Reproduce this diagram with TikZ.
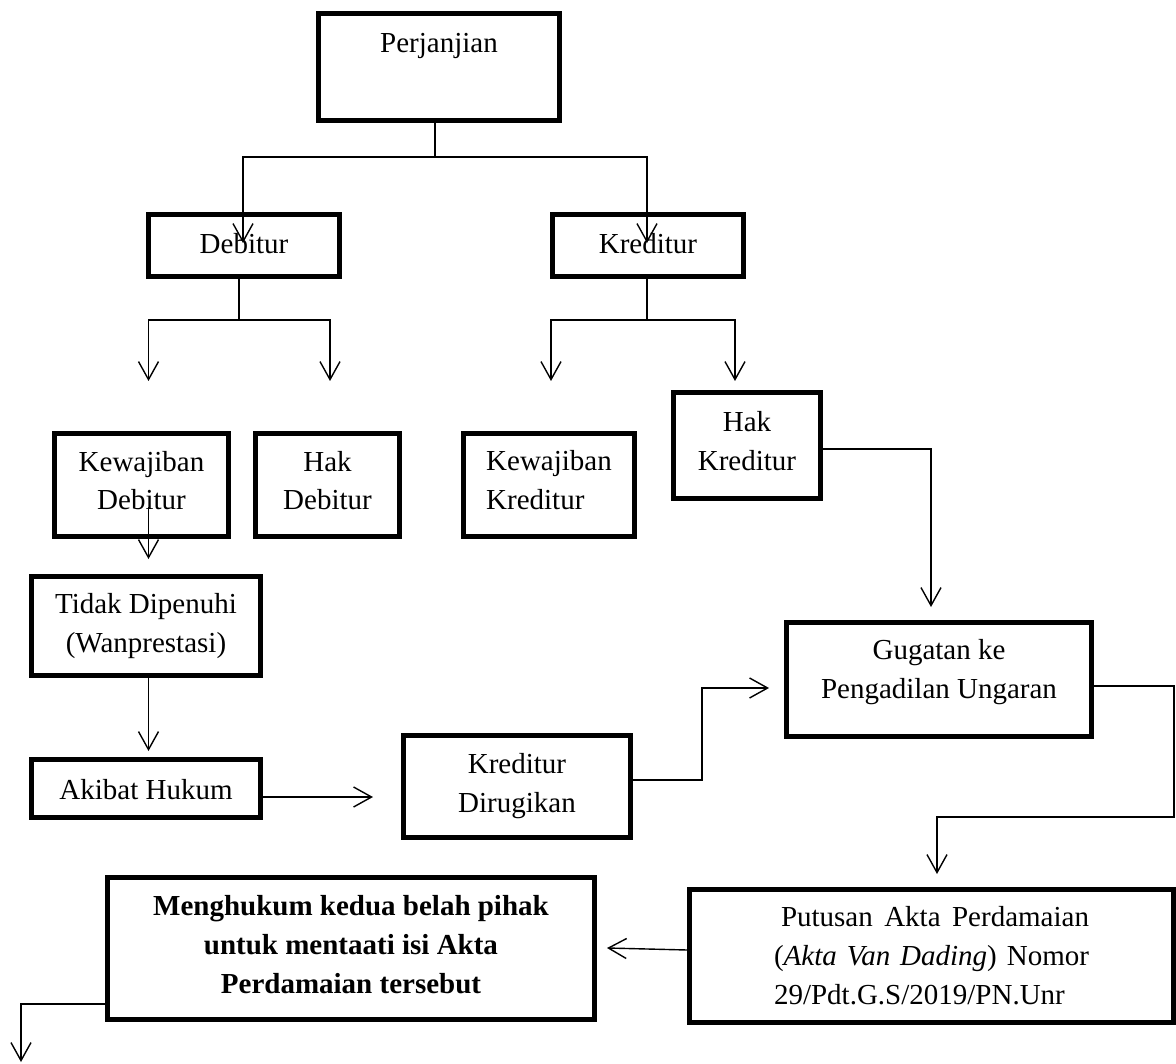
\documentclass[tikz,border=0pt]{standalone}
\usepackage{fontspec}
\setmainfont{Liberation Serif}
\usetikzlibrary{arrows.meta}
\begin{document}
\begin{tikzpicture}[x=1pt,y=-1pt,
  box/.style={draw, line width=5pt, inner sep=0pt, align=center,
    font=\fontsize{29}{39}\selectfont, text height=20pt},
  two/.style={text height=59pt, text depth=#1},
  three/.style={text height=98pt, text depth=#1},
  conn/.style={line width=1.4pt},
  arr/.style={conn, -{Straight Barb[length=18pt,width=20pt]}},
]
\useasboundingbox (0,0) rectangle (1176,1064);

% boxes
\node[box, minimum width=241pt, minimum height=107pt, text depth=48pt] (perj) at (439,67) {Perjanjian};
\node[box, minimum width=191pt, minimum height=62pt, text depth=3pt] (deb) at (244,245.5) {Debitur};
\node[box, minimum width=191pt, minimum height=62pt, text depth=3pt] (kred) at (648,245.5) {Kreditur};
\node[box, two=9pt, minimum width=174pt, minimum height=103pt] (kewdeb) at (141.5,485) {Kewajiban\\Debitur};
\node[box, two=9pt, minimum width=144pt, minimum height=103pt] (hakdeb) at (327.5,485) {Hak\\Debitur};
\node[box, two=11pt, align=left, minimum width=171pt, minimum height=103pt] (kewkred) at (549,485) {Kewajiban\\Kreditur};
\node[box, two=8pt, minimum width=147pt, minimum height=106pt] (hakkred) at (747,445.5) {Hak\\Kreditur};
\node[box, two=7pt, minimum width=229pt, minimum height=99pt] (tidak) at (146,626) {Tidak Dipenuhi\\(Wanprestasi)};
\node[box, minimum width=229pt, minimum height=58pt, text height=21pt, text depth=0pt] (akibat) at (146,788.5) {Akibat Hukum};
\node[box, two=8pt, minimum width=227pt, minimum height=102pt] (kdr) at (517,786.5) {Kreditur\\Dirugikan};
\node[box, two=22pt, minimum width=305pt, minimum height=114pt] (gug) at (939,679.5) {Gugatan ke\\Pengadilan Ungaran};
\node[box, three=2pt, align=left, minimum width=484pt, minimum height=133pt] (put) at (931.5,956)
  {\hspace*{7pt}\makebox[308pt][s]{Putusan Akta Perdamaian}\\\makebox[315pt][s]{(\textit{Akta Van Dading}) Nomor}\\29/Pdt.G.S/2019/PN.Unr};
\node[box, three=9pt, font=\fontsize{29}{39}\selectfont\bfseries, minimum width=487pt, minimum height=142pt] (meng) at (351,948.5)
  {Menghukum kedua belah pihak\\untuk mentaati isi Akta\\Perdamaian tersebut};

% coordinates
\coordinate (p1) at (435,157);
\coordinate (tDeb) at (243,243);
\coordinate (tKred) at (647,243);
\coordinate (d1) at (239,320);
\coordinate (tKewDeb) at (148.5,381);
\coordinate (tHakDeb) at (330,381);
\coordinate (k1) at (647,320);
\coordinate (tKewKred) at (551,381);
\coordinate (tHakKred) at (735,381);
\coordinate (a1) at (148.5,507);
\coordinate (a1t) at (148.5,559);
\coordinate (a2t) at (148.5,751);
\coordinate (a3t) at (373,797);
\coordinate (a4s) at (633,780);
\coordinate (a4t) at (769,688);
\coordinate (a5s) at (823,449);
\coordinate (a5t) at (931,607);
\coordinate (a6s) at (1094,686);
\coordinate (a6t) at (937,874);
\coordinate (a7s) at (687,950);
\coordinate (a7t) at (607,948);
\coordinate (a8s) at (105,1004);
\coordinate (a8t) at (21,1062);

% connectors
\draw[conn] (p1 |- perj.south) -- (p1);
\draw[arr] (p1) -| (tDeb);
\draw[arr] (p1) -| (tKred);

\draw[conn] (d1 |- deb.south) -- (d1);
\draw[arr] (d1) -| (tKewDeb);
\draw[arr] (d1) -| (tHakDeb);

\draw[conn] (k1 |- kred.south) -- (k1);
\draw[arr] (k1) -| (tKewKred);
\draw[arr] (k1) -| (tHakKred);

\draw[arr] (a1) -- (a1t);
\draw[arr] (a2t |- tidak.south) -- (a2t);
\draw[arr] (akibat.east |- a3t) -- (a3t);
\draw[arr] (kdr.east |- a4s) -- (702,780) -- (702,688) -- (a4t);
\draw[arr] (hakkred.east |- a5s) -| (a5t);
\draw[arr] (gug.east |- a6s) -- (1174,686) -- (1174,817) -- (937,817) -- (a6t);
\draw[arr] (put.west |- a7s) -- (a7t);
\draw[arr] (meng.west |- a8s) -| (a8t);
\end{tikzpicture}
\end{document}
